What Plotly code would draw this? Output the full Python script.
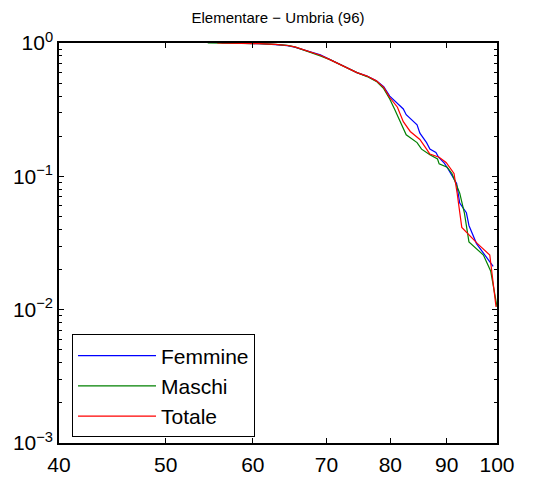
import plotly.graph_objects as go
import numpy as np

# ---- data ----
fem_age = [56.2, 58.8, 60.8, 62.9, 64.5, 65.5, 66.7, 67.9, 69.1, 70.5, 72.0, 73.0, 74.6, 76.2,
           77.7, 78.9, 79.9, 81.2, 82.2, 82.7, 84.6, 85.1, 86.3, 86.9, 88.0, 88.5, 89.6,
           90.3, 91.5, 91.9, 92.5, 93.8, 94.3, 95.8, 99.2]
fem_val = [1.0, 0.996, 0.988, 0.972, 0.955, 0.93, 0.885, 0.85, 0.815, 0.755, 0.69, 0.655,
           0.60, 0.565, 0.52, 0.47, 0.40, 0.35, 0.32, 0.29, 0.243, 0.211, 0.179, 0.160,
           0.151, 0.139, 0.125, 0.113, 0.095, 0.0885, 0.063, 0.0533, 0.0428, 0.0313, 0.0211]

mas_age = [54.6, 57.7, 60.8, 62.9, 64.5, 65.5, 66.7, 67.9, 69.1, 70.5, 72.0, 73.0, 74.6, 76.2,
           77.7, 78.9, 79.9, 80.7, 81.7, 82.7, 84.6, 85.4, 86.9, 88.3, 88.6, 90.1, 91.0,
           92.5, 93.4, 94.3, 97.2, 98.7, 100.0]
mas_val = [1.0, 0.998, 0.99, 0.977, 0.96, 0.935, 0.89, 0.845, 0.80, 0.75, 0.69, 0.645,
           0.60, 0.56, 0.515, 0.455, 0.38, 0.32, 0.257, 0.205, 0.179, 0.160, 0.145, 0.135,
           0.124, 0.117, 0.105, 0.0747, 0.0533, 0.0322, 0.0257, 0.0194, 0.0105]

tot_age = [55.7, 58.8, 60.8, 62.9, 64.5, 65.5, 66.7, 67.9, 69.1, 70.5, 72.0, 73.0, 74.6, 76.2,
           77.7, 78.9, 79.9, 81.2, 82.2, 83.4, 85.1, 86.3, 86.9, 88.6, 89.9, 91.4, 92.0,
           92.9, 96.0, 98.5, 99.0, 99.8]
tot_val = [1.0, 0.997, 0.989, 0.975, 0.958, 0.935, 0.89, 0.85, 0.81, 0.75, 0.69, 0.65,
           0.60, 0.565, 0.52, 0.465, 0.39, 0.33, 0.257, 0.217, 0.189, 0.160, 0.147, 0.139,
           0.127, 0.105, 0.0747, 0.0414, 0.0313, 0.0257, 0.0174, 0.0105]

x_ticks = [40, 50, 60, 70, 80, 90, 100]
y_ticks = [0.001, 0.01, 0.1, 1]
y_ticktext = ["10<sup>\u22123</sup>", "10<sup>\u22122</sup>", "10<sup>\u22121</sup>", "10<sup>0</sup>"]
title = "Elementare \u2212 Umbria (96)"

fig = go.Figure()
fig.add_trace(go.Scatter(x=fem_age, y=fem_val, mode="lines", name="Femmine",
                         line=dict(color="#0000FF", width=1.2)))
fig.add_trace(go.Scatter(x=mas_age, y=mas_val, mode="lines", name="Maschi",
                         line=dict(color="#008000", width=1.2)))
fig.add_trace(go.Scatter(x=tot_age, y=tot_val, mode="lines", name="Totale",
                         line=dict(color="#FF0000", width=1.2)))

minor_y = [m * 10.0 ** e for e in (-3, -2, -1) for m in range(2, 10)]

font_family = "Liberation Sans, Arial, sans-serif"
fig.update_layout(
    width=538, height=488,
    margin=dict(l=59, r=41, t=43, b=35),
    paper_bgcolor="white", plot_bgcolor="white",
    font=dict(family=font_family, color="black"),
    title=dict(text=title, x=0.5, xref="paper", y=1 - 18 / 488, yref="container",
               xanchor="center", yanchor="middle", font=dict(size=15, color="black")),
    showlegend=True,
    legend=dict(x=0.0297, y=0.014, xanchor="left", yanchor="bottom",
                bordercolor="black", borderwidth=1, bgcolor="white", itemwidth=78,
                font=dict(size=21, color="black"), tracegroupgap=0),
)
fig.update_xaxes(type="log", range=[np.log10(40), np.log10(100)],
                 tickmode="array", tickvals=x_ticks, ticktext=[str(v) for v in x_ticks],
                 ticks="inside", ticklen=5, tickcolor="black", showline=True,
                 linecolor="black", linewidth=1.5, mirror="ticks", showgrid=False,
                 zeroline=False, tickfont=dict(size=21, color="black"),
                 ticklabelstandoff=2)
fig.update_yaxes(type="log", range=[-3, 0],
                 tickmode="array", tickvals=y_ticks, ticktext=y_ticktext,
                 ticks="inside", ticklen=5, tickcolor="black", showline=True,
                 linecolor="black", linewidth=1.5, mirror="ticks", showgrid=False,
                 zeroline=False, tickfont=dict(size=21, color="black"),
                 minor=dict(tickmode="array", tickvals=minor_y, ticks="inside",
                            ticklen=3, tickcolor="black", showgrid=False))

fig.write_html("out.html")
